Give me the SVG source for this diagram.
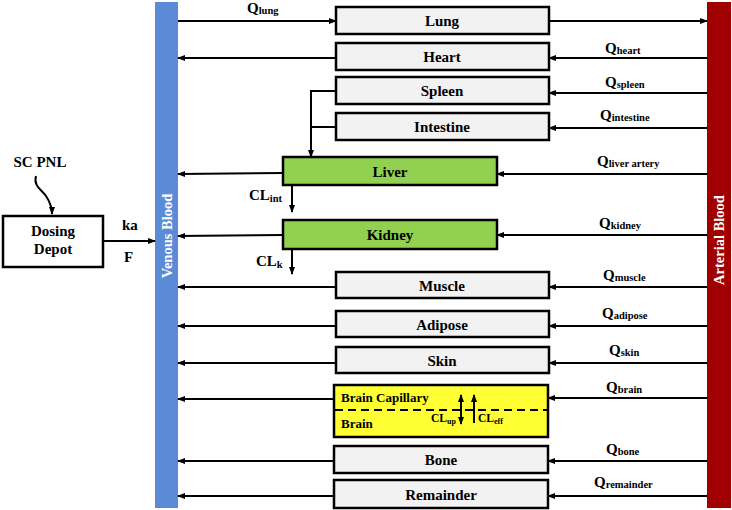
<svg xmlns="http://www.w3.org/2000/svg" width="732" height="510" viewBox="0 0 732 510">
<defs>
<marker id="ah" markerWidth="8" markerHeight="8" refX="7" refY="4" orient="auto" markerUnits="userSpaceOnUse">
<path d="M0,1 L8,4 L0,7 Z" fill="#000"/>
</marker>
<style>
text{font-family:"Liberation Serif","Times New Roman",serif;font-weight:bold;fill:#000}
.box{fill:#F2F2F2;stroke:#000;stroke-width:2.5}
.g{fill:#92D050;stroke:#000;stroke-width:2.5}
.lbl{font-size:15px;text-anchor:middle}
.q{font-size:15px}
.sub{font-size:10.5px}
.ln{stroke:#000;stroke-width:2;fill:none}
.ar{stroke:#000;stroke-width:2;fill:none;marker-end:url(#ah)}
</style>
</defs>
<rect width="732" height="510" fill="#fff"/>

<g id="venous">
<rect x="155" y="2" width="23" height="506" fill="#5B8BD6"/>
<text transform="translate(172,236) rotate(-90)" text-anchor="middle" font-size="14.5" style="fill:#fff">Venous Blood</text>
</g>
<g id="arterial">
<rect x="707" y="2" width="24" height="506" fill="#A00000"/>
<text transform="translate(724,240) rotate(-90)" text-anchor="middle" font-size="14.5" style="fill:#fff">Arterial Blood</text>
</g>

<g id="depot">
<rect x="3" y="216" width="100" height="51" fill="#fff" stroke="#000" stroke-width="2.5"/>
<text class="lbl" x="53" y="236">Dosing</text>
<text class="lbl" x="53" y="254">Depot</text>
</g>
<g id="scpnl"><text x="40" y="167" class="lbl">SC PNL</text></g>

<g id="lung"><rect class="box" x="336" y="7" width="213" height="27"/><text class="lbl" x="442" y="26">Lung</text></g>
<g id="heart"><rect class="box" x="336" y="43" width="213" height="27"/><text class="lbl" x="442" y="62">Heart</text></g>
<g id="spleen"><rect class="box" x="336" y="77" width="213" height="27"/><text class="lbl" x="442" y="96">Spleen</text></g>
<g id="intestine"><rect class="box" x="336" y="113" width="213" height="27"/><text class="lbl" x="442" y="132">Intestine</text></g>
<g id="liver"><rect class="g" x="283" y="157" width="214" height="28"/><text class="lbl" x="390" y="177">Liver</text></g>
<g id="kidney"><rect class="g" x="283" y="220" width="214" height="29"/><text class="lbl" x="390" y="240">Kidney</text></g>
<g id="muscle"><rect class="box" x="336" y="272" width="213" height="26"/><text class="lbl" x="442" y="291">Muscle</text></g>
<g id="adipose"><rect class="box" x="336" y="311" width="213" height="26"/><text class="lbl" x="442" y="330">Adipose</text></g>
<g id="skin"><rect class="box" x="336" y="347" width="213" height="26"/><text class="lbl" x="442" y="366">Skin</text></g>
<g id="brain">
<rect x="334" y="385" width="214" height="52" fill="#FFFF33" stroke="#000" stroke-width="2.5"/>
<line x1="335" y1="410" x2="547" y2="410" stroke="#000" stroke-width="2" stroke-dasharray="8,5"/>
<text x="341" y="402" font-size="13">Brain Capillary</text>
<text x="341" y="428" font-size="13">Brain</text>
</g>
<g id="bone"><rect class="box" x="334" y="446" width="214" height="27"/><text class="lbl" x="441" y="465">Bone</text></g>
<g id="remainder"><rect class="box" x="334" y="480" width="214" height="28"/><text class="lbl" x="441" y="500">Remainder</text></g>

<g id="connectors">
<path class="ar" d="M36,176 C33,186 42,190 46,196 C50,202 52,208 52,214"/>
<line class="ar" x1="103" y1="241" x2="155" y2="241"/>
<line class="ar" x1="178" y1="21" x2="336" y2="21"/>
<line class="ar" x1="549" y1="21" x2="707" y2="21"/>
<line class="ar" x1="707" y1="58" x2="549" y2="58"/>
<line class="ar" x1="336" y1="58" x2="178" y2="58"/>
<line class="ar" x1="707" y1="93" x2="549" y2="93"/>
<line class="ar" x1="707" y1="128" x2="549" y2="128"/>
<path class="ln" d="M336,91 H311 M336,127 H311"/>
<line class="ar" x1="311" y1="90" x2="311" y2="157"/>
<line class="ar" x1="707" y1="174" x2="497" y2="174"/>
<line class="ar" x1="283" y1="173" x2="178" y2="174"/>
<line class="ar" x1="292" y1="185" x2="292" y2="212"/>
<line class="ar" x1="707" y1="235" x2="497" y2="235"/>
<line class="ar" x1="283" y1="235" x2="178" y2="236"/>
<line class="ar" x1="292" y1="249" x2="292" y2="274"/>
<line class="ar" x1="707" y1="287" x2="549" y2="287"/>
<line class="ar" x1="336" y1="287" x2="178" y2="287"/>
<line class="ar" x1="707" y1="326" x2="549" y2="326"/>
<line class="ar" x1="336" y1="326" x2="178" y2="326"/>
<line class="ar" x1="707" y1="363" x2="549" y2="363"/>
<line class="ar" x1="336" y1="363" x2="178" y2="363"/>
<line class="ar" x1="707" y1="398" x2="548" y2="398"/>
<line class="ar" x1="334" y1="399" x2="178" y2="399"/>
<line class="ar" x1="707" y1="461" x2="548" y2="461"/>
<line class="ar" x1="334" y1="461" x2="178" y2="461"/>
<line class="ar" x1="707" y1="496" x2="548" y2="496"/>
<line class="ar" x1="334" y1="496" x2="178" y2="496"/>
<line class="ar" x1="461" y1="409" x2="461" y2="395"/>
<line class="ar" x1="461" y1="409" x2="461" y2="424"/>
<line class="ar" x1="474" y1="423" x2="474" y2="395"/>
</g>

<g id="labels">
<text x="122" y="230" class="q">ka</text>
<text x="124" y="262" class="q">F</text>
<text x="247" y="13" class="q">Q<tspan class="sub" dy="1">lung</tspan></text>
<text x="605" y="53" class="q">Q<tspan class="sub" dy="1">heart</tspan></text>
<text x="605" y="87" class="q">Q<tspan class="sub" dy="1">spleen</tspan></text>
<text x="600" y="120" class="q">Q<tspan class="sub" dy="1">intestine</tspan></text>
<text x="597" y="166" class="q">Q<tspan class="sub" dy="1">liver artery</tspan></text>
<text x="599" y="228" class="q">Q<tspan class="sub" dy="1">kidney</tspan></text>
<text x="603" y="280" class="q">Q<tspan class="sub" dy="1">muscle</tspan></text>
<text x="602" y="318" class="q">Q<tspan class="sub" dy="1">adipose</tspan></text>
<text x="609" y="355" class="q">Q<tspan class="sub" dy="1">skin</tspan></text>
<text x="606" y="392" class="q">Q<tspan class="sub" dy="1">brain</tspan></text>
<text x="606" y="454" class="q">Q<tspan class="sub" dy="1">bone</tspan></text>
<text x="594" y="487" class="q">Q<tspan class="sub" dy="1">remainder</tspan></text>
<text x="249" y="200" class="q">CL<tspan class="sub" dy="2">int</tspan></text>
<text x="256" y="266" class="q">CL<tspan class="sub" dy="2">k</tspan></text>
<text x="431" y="422" font-size="11.5">CL<tspan dy="2" font-size="8">up</tspan></text>
<text x="478" y="422" font-size="11.5">CL<tspan dy="2" font-size="8">eff</tspan></text>
</g>
</svg>
